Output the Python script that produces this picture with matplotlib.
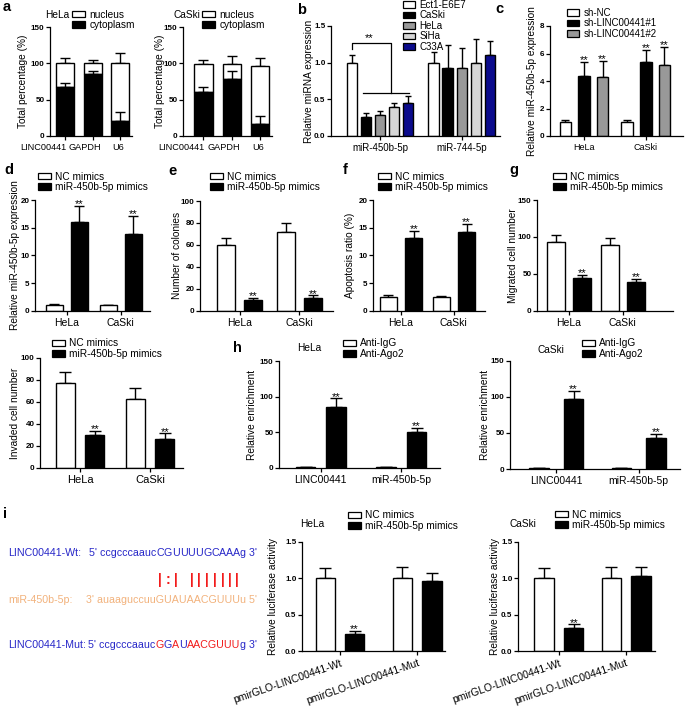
import numpy as np
import matplotlib.pyplot as plt
import matplotlib.transforms as mtransforms
from matplotlib.patches import Patch

plt.rcParams['font.family'] = ['Liberation Sans', 'DejaVu Sans']

W, H = 685, 708

# ---------------- data ----------------
# a: nuclear / cytoplasmic fractions
frac_genes = ['LINC00441', 'GAPDH', 'U6']
hela_cyto = [67, 85, 20]
hela_cyto_err = [6, 4, 13]
hela_total = [100, 100, 100]
hela_total_err = [8, 4, 14]
caski_cyto = [61, 78, 17]
caski_cyto_err = [6, 11, 10]
caski_total = [99, 99, 96]
caski_total_err = [6, 11, 11]

# b: miRNA expression in cell lines
b_groups = ['miR-450b-5p', 'miR-744-5p']
b_lines = ['Ect1-E6E7', 'CaSki', 'HeLa', 'SiHa', 'C33A']
b_colors = ['white', 'black', '#999999', '#d6d6d6', '#0b0b8c']
b_mir450 = [1.0, 0.26, 0.29, 0.40, 0.45]
b_mir450_err = [0.11, 0.05, 0.05, 0.05, 0.09]
b_mir744 = [1.0, 0.93, 0.93, 1.0, 1.1]
b_mir744_err = [0.14, 0.31, 0.27, 0.32, 0.2]

cells = ['HeLa', 'CaSki']

# c: knockdown
c_labels = ['sh-NC', 'sh-LINC00441#1', 'sh-LINC00441#2']
c_nc = [1.0, 1.0]
c_nc_err = [0.15, 0.15]
c_sh1 = [4.4, 5.4]
c_sh1_err = [1.0, 0.85]
c_sh2 = [4.3, 5.2]
c_sh2_err = [1.15, 1.3]

mim_labels = ['NC mimics', 'miR-450b-5p mimics']
# d
d_nc = [1.0, 1.0]
d_nc_err = [0.15, 0.12]
d_mim = [16.1, 13.8]
d_mim_err = [2.9, 3.3]
# e
e_nc = [60, 72]
e_nc_err = [6, 7.5]
e_mim = [10, 12]
e_mim_err = [1.5, 2]
# f
f_nc = [2.5, 2.4]
f_nc_err = [0.3, 0.3]
f_mim = [13.1, 14.3]
f_mim_err = [1.35, 1.35]
# g migration / invasion
g_nc = [93, 89]
g_nc_err = [10, 9]
g_mim = [44, 39]
g_mim_err = [5, 4.5]
inv_nc = [77, 63]
inv_nc_err = [10, 10]
inv_mim = [30, 26]
inv_mim_err = [4, 5.5]

# h: RIP
h_targets = ['LINC00441', 'miR-450b-5p']
rip_labels = ['Anti-IgG', 'Anti-Ago2']
h_hela_igg = [1, 1]
h_hela_igg_err = [0.5, 0.5]
h_hela_ago = [86, 50]
h_hela_ago_err = [11.5, 6]
h_caski_igg = [1, 1]
h_caski_igg_err = [0.5, 0.5]
h_caski_ago = [97, 43]
h_caski_ago_err = [11.5, 6]

# i: luciferase
luc_constructs = ['pmirGLO-LINC00441-Wt', 'pmirGLO-LINC00441-Mut']
luc_hela_nc = [1.0, 1.0]
luc_hela_nc_err = [0.14, 0.16]
luc_hela_mim = [0.23, 0.97]
luc_hela_mim_err = [0.05, 0.1]
luc_caski_nc = [1.0, 1.0]
luc_caski_nc_err = [0.14, 0.16]
luc_caski_mim = [0.31, 1.03]
luc_caski_mim_err = [0.06, 0.12]

# ---------------- helpers ----------------
fig = plt.figure(figsize=(W / 100, H / 100), dpi=100)
fig.patch.set_facecolor('white')

ov = fig.add_axes([0, 0, 1, 1])
ov.set_xlim(0, W)
ov.set_ylim(H, 0)
ov.axis('off')


def add_ax(x0, x1, ytop, ybot):
    ax = fig.add_axes([x0 / W, 1 - ybot / H, (x1 - x0) / W, (ybot - ytop) / H])
    ax.patch.set_alpha(0)
    ax._px = (x0, x1)
    return ax


def style(ax, ylim, yticks, ylab, lab_x, xticks, xlabels, xfs=7.5, fmt='{:g}'):
    for s in ['top', 'right']:
        ax.spines[s].set_visible(False)
    for s in ['left', 'bottom']:
        ax.spines[s].set_linewidth(0.9)
    ax.set_ylim(*ylim)
    ax.set_yticks(yticks)
    ax.set_yticklabels([fmt.format(t) for t in yticks], fontweight='bold')
    ax.tick_params(axis='y', length=3, width=0.9, labelsize=5.8, pad=1)
    ax.set_xticks(xticks)
    ax.set_xticklabels(xlabels)
    ax.tick_params(axis='x', length=3, width=0.9, labelsize=xfs, pad=2)
    ax.set_ylabel(ylab, fontsize=7.3)
    x0, x1 = ax._px
    ax.yaxis.set_label_coords((lab_x - x0) / (x1 - x0), 0.5)


def draw_bars(ax, x, vals, err, color, width, cap, stars=None):
    ax.bar(x, vals, width, color=color, edgecolor='black', linewidth=1.0, zorder=2)
    ax.errorbar(x, vals, yerr=[np.zeros(len(err)), err], fmt='none', ecolor='black',
                elinewidth=1.0, capsize=cap, capthick=1.0, zorder=1)
    if stars:
        for xi, v, e, s in zip(x, vals, err, stars):
            if s:
                ax.annotate('**', (xi, v + e), xytext=(0, -2.5), textcoords='offset points',
                            ha='center', va='bottom', fontsize=8)


def legend_px(ax, labels, colors, x, y, fs=7.3):
    handles = [Patch(facecolor=c, edgecolor='black', linewidth=0.9) for c in colors]
    ax.legend(handles, labels, loc='upper left', bbox_to_anchor=(x / W, 1 - y / H),
              bbox_transform=fig.transFigure, frameon=False, fontsize=fs,
              handlelength=1.25, handleheight=0.65, handletextpad=0.45,
              labelspacing=0.05, borderpad=0, borderaxespad=0)


def letter(s, x, y):
    fig.text(x / W, 1 - y / H, s, fontsize=10.5, fontweight='bold', ha='left', va='baseline')


def title_px(s, x, y):
    fig.text(x / W, 1 - y / H, s, fontsize=7.3, ha='left', va='center')


def two_group(ax, nc, nc_err, mim, mim_err, off, width, cap, colors=('white', 'black'),
              stars_nc=None, stars_mim=(1, 1)):
    xs = np.arange(len(nc))
    draw_bars(ax, xs - off, nc, nc_err, colors[0], width, cap, stars_nc)
    draw_bars(ax, xs + off, mim, mim_err, colors[1], width, cap, stars_mim)


# ---------------- a ----------------
a_label_shift = [-22, -8, -2]
for cyto, cyto_err, total, total_err, box, lab_x, name, tx, lx, x_lo in [
        (hela_cyto, hela_cyto_err, hela_total, hela_total_err, (50, 132), 28, 'HeLa', 45, 72, -0.55),
        (caski_cyto, caski_cyto_err, caski_total, caski_total_err, (183, 272), 165, 'CaSki', 174, 202, -0.72)]:
    ax = add_ax(box[0], box[1], 27, 136)
    xs = np.arange(len(frac_genes))
    nuc = np.array(total) - np.array(cyto)
    ax.bar(xs, nuc, 0.65, bottom=cyto, color='white', edgecolor='black', linewidth=1.0, zorder=2)
    ax.errorbar(xs, total, yerr=[np.zeros(3), total_err], fmt='none', ecolor='black',
                elinewidth=1.0, capsize=3.5, capthick=1.0, zorder=1)
    ax.bar(xs, cyto, 0.65, color='black', edgecolor='black', linewidth=1.0, zorder=2)
    ax.errorbar(xs, cyto, yerr=[np.zeros(3), cyto_err], fmt='none', ecolor='black',
                elinewidth=1.0, capsize=3.5, capthick=1.0, zorder=3)
    ax.set_xlim(x_lo, 2.42)
    style(ax, (0, 150), [0, 50, 100, 150], 'Total percentage (%)', lab_x, xs, frac_genes, xfs=6.6)
    for t, dx in zip(ax.get_xticklabels(), a_label_shift):
        t.set_transform(t.get_transform() + mtransforms.ScaledTranslation(dx / 100, 0, fig.dpi_scale_trans))
    title_px(name, tx, 15)
    legend_px(ax, ['nucleus', 'cytoplasm'], ['white', 'black'], lx, 9.5)
letter('a', 3, 11)

# ---------------- b ----------------
ax = add_ax(331, 500, 26, 136)
xs = np.arange(len(b_groups))
b_off = 0.172
for k, (name, col) in enumerate(zip(b_lines, b_colors)):
    vals = [b_mir450[k], b_mir744[k]]
    errs = [b_mir450_err[k], b_mir744_err[k]]
    draw_bars(ax, xs + (k - 2) * b_off, vals, errs, col, 0.125, 2.3)
ax.set_xlim(-0.60, 1.47)
style(ax, (0, 1.5), [0, 0.5, 1.0, 1.5], 'Relative miRNA expression', 314, xs, b_groups,
      xfs=7, fmt='{:.1f}')
legend_px(ax, b_lines, b_colors, 403, 0, fs=7)
# significance bracket
top = b_mir450[0] + b_mir450_err[0] + 0.16
low = max(v + e for v, e in zip(b_mir450[1:], b_mir450_err[1:])) + 0.04
xl = -2 * b_off
xr = 0.13
ax.plot([xl, xl, xr, xr], [b_mir450[0] + b_mir450_err[0] + 0.08, top, top, low],
        color='black', lw=0.9, clip_on=False)
ax.plot([-b_off - 0.04, 2 * b_off + 0.01], [low, low], color='black', lw=0.9)
ax.text((xl + xr) / 2 - 0.02, top, '**', ha='center', va='bottom', fontsize=8)
letter('b', 297, 14)

# ---------------- c ----------------
ax = add_ax(550, 683, 26, 136)
xs = np.arange(len(cells))
draw_bars(ax, xs - 0.30, c_nc, c_nc_err, 'white', 0.19, 2.6)
draw_bars(ax, xs, c_sh1, c_sh1_err, 'black', 0.19, 2.6, (1, 1))
draw_bars(ax, xs + 0.30, c_sh2, c_sh2_err, '#999999', 0.19, 2.6, (1, 1))
ax.set_xlim(-0.55, 1.6)
style(ax, (0, 8), [0, 2, 4, 6, 8], 'Relative miR-450b-5p expression', 537, xs, cells, xfs=6.5)
legend_px(ax, c_labels, ['white', 'black', '#999999'], 567, 8, fs=7)
letter('c', 495, 13)

# ---------------- d ----------------
ax = add_ax(35, 150, 200, 310.7)
two_group(ax, d_nc, d_nc_err, d_mim, d_mim_err, 0.23, 0.31, 3.5)
ax.set_xlim(-0.59, 1.54)
style(ax, (0, 20), [0, 5, 10, 15, 20], 'Relative miR-450b-5p expression', 20, xs, cells)
legend_px(ax, mim_labels, ['white', 'black'], 38, 171.5)
letter('d', 4, 174)

# ---------------- e ----------------
ax = add_ax(200, 333, 201, 310.7)
two_group(ax, e_nc, e_nc_err, e_mim, e_mim_err, 0.225, 0.30, 3.5)
ax.set_xlim(-0.66, 1.56)
style(ax, (0, 100), [0, 20, 40, 60, 80, 100], 'Number of colonies', 182, xs, cells)
legend_px(ax, mim_labels, ['white', 'black'], 210, 171.5)
letter('e', 168, 175)

# ---------------- f ----------------
ax = add_ax(373, 485, 200, 310.7)
two_group(ax, f_nc, f_nc_err, f_mim, f_mim_err, 0.24, 0.32, 3.5)
ax.set_xlim(-0.53, 1.59)
style(ax, (0, 20), [0, 5, 10, 15, 20], 'Apoptosis ratio (%)', 355, xs, cells)
legend_px(ax, mim_labels, ['white', 'black'], 378, 171.5)
letter('f', 343, 174)

# ---------------- g ----------------
ax = add_ax(537, 673, 200, 310.7)
two_group(ax, g_nc, g_nc_err, g_mim, g_mim_err, 0.24, 0.33, 3.5)
ax.set_xlim(-0.59, 1.93)
style(ax, (0, 150), [0, 50, 100, 150], 'Migrated cell number', 518, xs, cells)
legend_px(ax, mim_labels, ['white', 'black'], 553, 171.5)
letter('g', 509, 174)

ax = add_ax(40, 183, 358, 468)
two_group(ax, inv_nc, inv_nc_err, inv_mim, inv_mim_err, 0.21, 0.27, 4)
ax.set_xlim(-0.57, 1.47)
style(ax, (0, 100), [0, 20, 40, 60, 80, 100], 'Invaded cell number', 20, xs, cells, xfs=8)
legend_px(ax, mim_labels, ['white', 'black'], 52, 338.5)

# ---------------- h ----------------
xs = np.arange(len(h_targets))
ax = add_ax(279, 440, 361, 468)
two_group(ax, h_hela_igg, h_hela_igg_err, h_hela_ago, h_hela_ago_err, 0.19, 0.24, 4)
ax.set_xlim(-0.52, 1.48)
style(ax, (0, 150), [0, 50, 100, 150], 'Relative enrichment', 257, xs, h_targets)
legend_px(ax, rip_labels, ['white', 'black'], 343, 338.5)
title_px('HeLa', 297, 348)

ax = add_ax(510, 680, 361, 469)
two_group(ax, h_caski_igg, h_caski_igg_err, h_caski_ago, h_caski_ago_err, 0.21, 0.24, 4)
ax.set_xlim(-0.56, 1.50)
style(ax, (0, 150), [0, 50, 100, 150], 'Relative enrichment', 490, xs, h_targets)
legend_px(ax, rip_labels, ['white', 'black'], 582, 338.5)
title_px('CaSki', 537, 350)
letter('h', 233, 352)

# ---------------- i: luciferase ----------------
for nc, nc_err, mim, mim_err, box, off, wd, xl, lab_x, name, tx, lx, ly in [
        (luc_hela_nc, luc_hela_nc_err, luc_hela_mim, luc_hela_mim_err, (302, 445), 0.19, 0.25,
         (-0.49, 1.36), 278, 'HeLa', 300, 348, 510.5),
        (luc_caski_nc, luc_caski_nc_err, luc_caski_mim, luc_caski_mim_err, (518, 655), 0.22, 0.29,
         (-0.61, 1.43), 500, 'CaSki', 510, 555, 509.5)]:
    ax = add_ax(box[0], box[1], 542, 651)
    two_group(ax, nc, nc_err, mim, mim_err, off, wd, 4, stars_mim=(1, 0))
    ax.set_xlim(*xl)
    style(ax, (0, 1.5), [0, 0.5, 1.0, 1.5], 'Relative luciferase activity', lab_x, xs,
          luc_constructs, fmt='{:.1f}')
    for t in ax.get_xticklabels():
        t.set_rotation(19)
        t.set_ha('right')
        t.set_rotation_mode('anchor')
    title_px(name, tx, 524)
    legend_px(ax, mim_labels, ['white', 'black'], lx, ly)
letter('i', 3, 518)

# sequence diagram
blue = '#2727c8'
orange = '#f2b27c'
red = '#f21c1c'
fs = 7.7
wt_core = 'CGUUUUGCAAA'
mut_pieces = [("5' ccgcccaauc", blue), ('G', red), ('G', blue), ('A', red), ('U', blue),
              ('AACGUUU', red), ("g 3'", blue)]
pair_marks = ['|', ':', '|', '', '|', '|', '|', '|', '|', '|', '|']

ov.text(8, 553, 'LINC00441-Wt:', color=blue, fontsize=fs, va='center')
ov.text(8, 600, 'miR-450b-5p:', color=orange, fontsize=fs, va='center')
ov.text(8, 645, 'LINC00441-Mut:', color=blue, fontsize=fs, va='center')

t = ov.text(89, 553, "5' ccgcccaauc", color=blue, fontsize=fs, va='center')
for ch, mk in zip(wt_core, pair_marks):
    t = ov.annotate(ch, xy=(1, 0), xycoords=t, va='bottom', color=blue, fontsize=fs)
    if mk:
        ov.annotate(mk, xy=(0.5, 0), xycoords=t, xytext=(0, -11), textcoords='offset points',
                    ha='center', va='top', color=red, fontsize=10, fontweight='bold')
ov.annotate("g 3'", xy=(1, 0), xycoords=t, va='bottom', color=blue, fontsize=fs)

ov.text(86, 600, "3' auaaguccuuGUAUAACGUUUu 5'", color=orange, fontsize=fs, va='center')

t = ov.text(88, 645, mut_pieces[0][0], color=mut_pieces[0][1], fontsize=fs, va='center')
for s, c in mut_pieces[1:]:
    t = ov.annotate(s, xy=(1, 0), xycoords=t, va='bottom', color=c, fontsize=fs)

fig.savefig('out.png', dpi=100, facecolor='white')
